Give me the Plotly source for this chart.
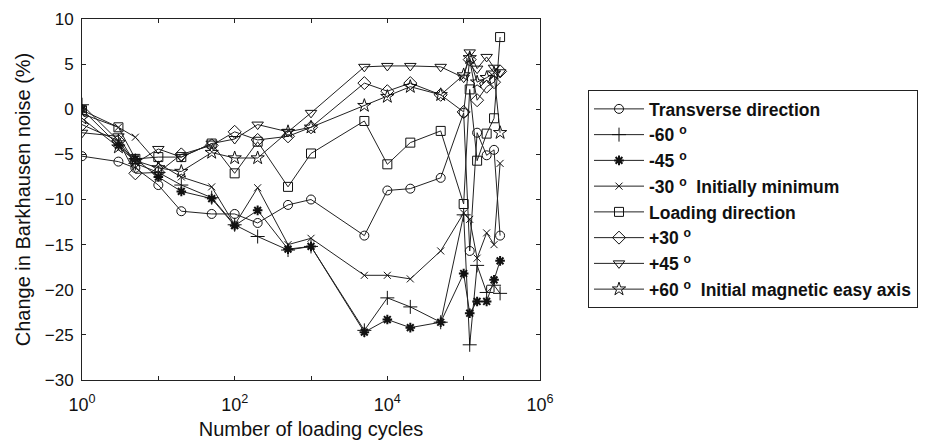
import plotly.graph_objects as go

# Loading cycles at which the Barkhausen noise was measured
cycles = [1, 3, 5, 10, 20, 50, 100, 200, 500, 1000, 5000, 10000, 20000,
          50000, 100000, 120000, 150000, 200000, 250000, 300000]

# Change in Barkhausen noise (%) for each measuring direction
transverse = [-5.2, -5.8, -6.5, -8.4, -11.3, -11.6, -11.6, -12.6, -10.6, -10.0,
              -14.0, -9.0, -8.8, -7.6, -0.4, -15.7, -2.6, -5.1, -4.5, -14.0]
minus60 = [0.5, -3.5, -6.0, -7.0, -8.4, -9.8, -12.8, -14.1, -15.6, -15.2,
           -24.5, -20.9, -21.9, -23.6, -11.7, -26.1, -17.3, -20.3, -19.5, -20.4]
minus45 = [0.0, -4.0, -5.5, -7.5, -9.1, -9.9, -12.9, -11.2, -15.5, -15.2,
           -24.7, -23.3, -24.2, -23.6, -18.2, -22.6, -21.3, -21.3, -18.9, -16.8]
minus30 = [-0.5, -2.0, -3.1, -6.0, -7.5, -8.6, -12.8, -8.7, -15.0, -14.3,
           -18.4, -18.4, -18.8, -15.7, -11.5, -12.2, -16.5, -13.7, -15.0, -6.0]
loading = [-0.1, -2.0, -5.5, -5.3, -5.3, -3.8, -7.1, -3.6, -8.6, -4.9,
           -1.3, -6.1, -3.7, -2.4, -10.5, 2.2, -5.7, -2.7, -1.0, 8.0]
plus30 = [-1.7, -3.5, -7.1, -7.0, -5.0, -4.0, -2.5, -3.4, -3.0, -2.0,
          2.9, 2.0, 2.9, 1.6, -0.3, 5.5, 1.0, 2.5, 3.0, 4.2]
plus45 = [-2.6, -3.0, -6.0, -4.4, -5.3, -3.8, -3.3, -1.7, -2.5, -0.4,
          4.7, 4.8, 4.8, 4.7, 3.5, 6.3, 4.5, 5.8, 4.6, 4.1]
plus60 = [-1.0, -4.2, -5.7, -6.5, -6.9, -4.8, -5.4, -5.4, -2.5, -2.0,
          0.4, 1.4, 2.5, 1.6, 3.8, 5.7, 3.0, 3.5, 4.0, -2.6]

series_names = [
    "Transverse direction",
    "-60 <sup>o</sup>",
    "-45 <sup>o</sup>",
    "-30 <sup>o</sup>  Initially minimum",
    "Loading direction",
    "+30 <sup>o</sup>",
    "+45 <sup>o</sup>",
    "+60 <sup>o</sup>  Initial magnetic easy axis",
]
series_values = [transverse, minus60, minus45, minus30, loading, plus30, plus45, plus60]
symbols = ["circle-open", "cross-thin-open", "asterisk-open", "x-thin-open",
           "square-open", "diamond-open", "triangle-down-open", "star-open"]
sizes = [9, 10, 8, 7, 9, 10, 10, 10]
mwidths = [1, 1, 2, 1, 1, 1, 1, 1]

x_tickvals = [1, 10, 100, 1000, 10000, 100000, 1000000]
x_ticktext = ["10<sup>0</sup>", "", "10<sup>2</sup>", "", "10<sup>4</sup>", "", "10<sup>6</sup>"]
y_tickvals = [-30, -25, -20, -15, -10, -5, 0, 5, 10]

fig = go.Figure()
for name, vals, sym, sz, mw in zip(series_names, series_values, symbols, sizes, mwidths):
    fig.add_trace(go.Scatter(
        x=cycles, y=vals, name=name, mode="lines+markers",
        line=dict(color="#222222", width=1),
        marker=dict(symbol=sym, size=sz, color="#111111",
                    line=dict(color="#111111", width=mw)),
    ))

font_family = "Liberation Sans, Arial, sans-serif"
fig.update_layout(
    width=927, height=441,
    margin=dict(l=82, r=387, t=19, b=61, autoexpand=False),
    paper_bgcolor="white", plot_bgcolor="white",
    font=dict(family=font_family, size=17, color="#111111"),
    showlegend=True,
    legend=dict(
        xref="container", yref="container",
        x=588 / 927, y=1 - 90 / 441, xanchor="left", yanchor="top",
        maxheight=400,
        bordercolor="#222222", borderwidth=1, bgcolor="white",
        font=dict(size=17.5, weight="bold"), tracegroupgap=0, itemwidth=50,
    ),
)
fig.update_xaxes(
    type="log", range=[0, 6], automargin=False,
    tickvals=x_tickvals, ticktext=x_ticktext,
    ticks="inside", ticklen=4, tickcolor="#222222",
    showline=True, linecolor="#222222", linewidth=1, mirror="ticks",
    showgrid=False, zeroline=False,
    ticklabelstandoff=8,
    title=dict(text="Number of loading cycles", standoff=8),
    tickfont=dict(size=18),
)
fig.update_yaxes(
    range=[-30, 10], automargin=False, tickvals=y_tickvals,
    ticks="inside", ticklen=4, tickcolor="#222222",
    showline=True, linecolor="#222222", linewidth=1, mirror="ticks",
    showgrid=False, zeroline=False,
    ticklabelstandoff=4,
    title=dict(text="Change in Barkhausen noise (%)", standoff=8),
    tickfont=dict(size=17),
)

fig.write_html("out.html")
